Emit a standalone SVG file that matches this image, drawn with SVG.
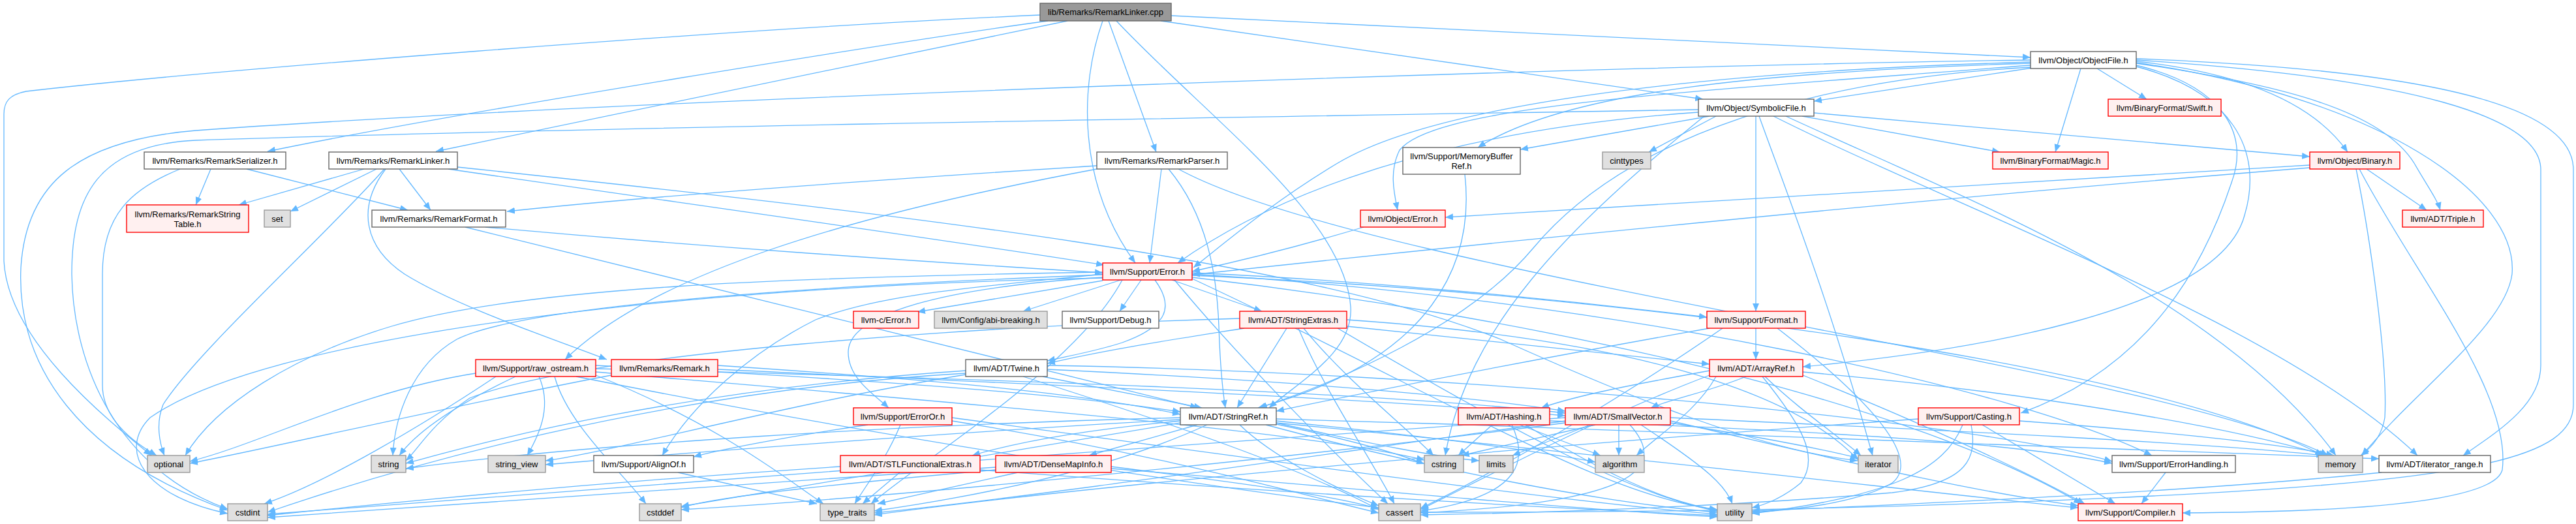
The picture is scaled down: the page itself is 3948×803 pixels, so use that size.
<svg xmlns="http://www.w3.org/2000/svg" width="3948" height="803" viewBox="0 0 3948 803">
<style>
.e{fill:none;stroke:#63b8ff;stroke-width:1.3;marker-end:url(#a)}
rect{stroke-width:1.4}
.w rect{fill:#fff;stroke:#666}
.r rect{fill:#fff0f0;stroke:#f00}
.g rect{fill:#e0e0e0;stroke:#999}
.k rect{fill:#999;stroke:#666}
text{font-family:"Liberation Sans",Arial,sans-serif;font-size:13px;text-anchor:middle;fill:#000}
</style>
<defs>
<marker id="a" viewBox="0 0 12 10" refX="12" refY="5" markerWidth="12" markerHeight="10" markerUnits="userSpaceOnUse" orient="auto"><path d="M0,0 L12,5 L0,10 z" fill="#63b8ff"/></marker>
</defs>
<rect width="3948" height="803" fill="#fff"/>
<g id="edges">
<path class="e" d="M1606,32 C1400,60 700,172 410,232"/>
<path class="e" d="M1636,32 L668,232"/>
<path class="e" d="M1594,23 C1100,45 300,110 40,140 C15,145 6,155 6,175 L6,400 C12,520 160,640 232,698"/>
<path class="e" d="M1690,32 C1655,130 1650,280 1740,403"/>
<path class="e" d="M1699,32 L1772,233"/>
<path class="e" d="M1711,32 C1850,180 2060,330 2070,470 C2075,540 1990,585 1945,625"/>
<path class="e" d="M1795,24 C2300,45 2800,70 3112,88"/>
<path class="e" d="M1779,32 L2610,152"/>
<path class="e" d="M276,259 C200,290 157,330 157,420 L157,590 C157,640 200,675 240,698"/>
<path class="e" d="M323,259 L300,314"/>
<path class="e" d="M378,259 L625,322"/>
<path class="e" d="M558,259 L366,314"/>
<path class="e" d="M577,259 L445,324"/>
<path class="e" d="M589,259 C500,360 300,540 250,620 C238,650 245,680 252,698"/>
<path class="e" d="M591,259 C545,320 560,380 620,420 C700,470 850,520 930,551"/>
<path class="e" d="M612,259 L660,322"/>
<path class="e" d="M687,259 C1000,305 1400,360 1692,406"/>
<path class="e" d="M701,256 C1400,330 2000,400 2300,520 C2500,610 2700,690 2847,706"/>
<path class="e" d="M1681,254 C1400,272 1000,300 777,324"/>
<path class="e" d="M1681,259 C1300,330 1000,420 866,551"/>
<path class="e" d="M1780,259 L1762,403"/>
<path class="e" d="M1791,259 C1850,330 1865,420 1868,500 C1870,560 1874,600 1878,625"/>
<path class="e" d="M1806,259 C2100,420 3300,560 3568,698"/>
<path class="e" d="M713,348 L1836,625"/>
<path class="e" d="M744,348 C1100,380 1400,400 1690,418"/>
<path class="e" d="M3115,104 L2780,155"/>
<path class="e" d="M3189,105 L3150,233"/>
<path class="e" d="M3214,105 L3290,152"/>
<path class="e" d="M3274,94 C3420,110 3540,150 3598,233"/>
<path class="e" d="M3274,97 C3500,130 3650,170 3700,250 C3720,285 3735,305 3740,322"/>
<path class="e" d="M3274,92 C3700,120 3894,180 3894,260 L3894,560 C3894,620 3830,660 3775,698"/>
<path class="e" d="M3274,90 C3800,110 3944,180 3944,260 L3944,620 C3944,700 3800,735 3300,760 C2800,785 2400,785 2177,785"/>
<path class="e" d="M3274,96 C3650,150 3860,300 3850,420 C3840,500 3700,600 3620,698"/>
<path class="e" d="M3274,100 C3400,130 3450,200 3420,280 C3380,400 3300,560 3097,633"/>
<path class="e" d="M3274,102 C3420,140 3470,230 3440,330 C3400,480 3000,540 2763,562"/>
<path class="e" d="M3112,95 C2600,110 2200,160 2050,250 C1950,310 1880,370 1829,410"/>
<path class="e" d="M3112,97 C2700,110 2400,140 2265,226"/>
<path class="e" d="M3112,100 C2600,140 2200,160 2145,230 C2130,260 2135,290 2142,322"/>
<path class="e" d="M3112,92 C2500,100 1000,150 300,200 C120,215 40,280 32,410 C25,560 120,700 349,782"/>
<path class="e" d="M3112,103 C2800,120 2500,200 2350,380 C2250,500 2050,585 1930,625"/>
<path class="e" d="M2620,178 L2330,229"/>
<path class="e" d="M2630,178 L2527,233"/>
<path class="e" d="M2762,178 L3065,233"/>
<path class="e" d="M2780,173 L3540,240"/>
<path class="e" d="M2691,178 L2691,477"/>
<path class="e" d="M2696,178 C2740,300 2800,450 2870,698"/>
<path class="e" d="M2737,178 C3000,300 3400,450 3580,698"/>
<path class="e" d="M2718,178 C3000,320 3500,500 3705,698"/>
<path class="e" d="M2603,168 C2000,178 900,195 300,215 C150,222 110,300 110,420 C112,560 180,720 349,780"/>
<path class="e" d="M2603,172 C2200,200 1950,300 1805,403"/>
<path class="e" d="M2612,178 C2400,350 2250,500 2215,698"/>
<path class="e" d="M2245,267 C2260,400 2200,550 1928,625"/>
<path class="e" d="M2090,348 C2000,375 1900,400 1827,416"/>
<path class="e" d="M3540,253 L2215,333"/>
<path class="e" d="M3540,257 C3000,300 2300,370 1827,421"/>
<path class="e" d="M3627,259 L3719,322"/>
<path class="e" d="M3611,259 C3630,350 3660,550 3655,640 C3650,670 3632,688 3618,698"/>
<path class="e" d="M3616,259 C3700,420 3850,600 3835,720 C3820,780 3500,785 3345,786"/>
<path class="e" d="M1690,430 L1406,478"/>
<path class="e" d="M1718,429 L1568,477"/>
<path class="e" d="M1749,429 L1716,477"/>
<path class="e" d="M1770,429 C1800,470 1790,500 1720,525 C1680,538 1640,545 1605,553"/>
<path class="e" d="M1796,429 L1934,477"/>
<path class="e" d="M1690,420 C1500,440 1350,450 1250,490 C1150,540 1060,620 1015,698"/>
<path class="e" d="M1690,417 C1200,425 800,440 600,500 C450,545 330,620 284,698"/>
<path class="e" d="M1690,421 C1200,440 800,470 700,520 C630,560 605,640 602,698"/>
<path class="e" d="M1690,426 C1000,440 400,520 230,640 C180,690 220,760 349,787"/>
<path class="e" d="M1720,429 C1650,560 1420,700 1335,772"/>
<path class="e" d="M1827,425 C2300,480 2900,600 3190,772"/>
<path class="e" d="M1827,420 C2500,460 3100,600 3298,698"/>
<path class="e" d="M1690,425 C1450,440 1300,480 1300,540 C1300,580 1340,605 1362,625"/>
<path class="e" d="M1827,418 C2100,430 2400,460 2616,486"/>
<path class="e" d="M1827,422 C2500,450 3300,560 3560,698"/>
<path class="e" d="M1827,427 C2200,600 2450,760 2632,781"/>
<path class="e" d="M1800,429 C1900,550 2050,700 2127,772"/>
<path class="e" d="M1907,503 C1800,520 1700,535 1605,557"/>
<path class="e" d="M1972,503 L1896,625"/>
<path class="e" d="M1990,503 C2030,600 2100,700 2137,772"/>
<path class="e" d="M1998,503 C2060,580 2150,650 2197,698"/>
<path class="e" d="M2064,500 L2620,558"/>
<path class="e" d="M1900,488 C1500,500 900,540 720,610 C660,650 640,690 622,706"/>
<path class="e" d="M2064,490 C2500,520 2750,600 2848,705"/>
<path class="e" d="M2050,503 C2300,650 2500,760 2632,783"/>
<path class="e" d="M1598,577 L1842,625"/>
<path class="e" d="M1605,566 C1900,580 2200,600 2399,630"/>
<path class="e" d="M1605,560 C2200,570 3000,640 3237,707"/>
<path class="e" d="M1568,577 C1800,650 2000,720 2113,781"/>
<path class="e" d="M1480,572 C1000,600 600,720 410,785"/>
<path class="e" d="M1480,568 C1000,600 700,690 622,710"/>
<path class="e" d="M1480,574 C1200,620 950,690 836,706"/>
<path class="e" d="M826,577 C845,620 830,660 808,698"/>
<path class="e" d="M729,572 C550,600 400,680 291,707"/>
<path class="e" d="M790,577 C700,620 640,660 612,698"/>
<path class="e" d="M760,577 C650,650 500,740 405,772"/>
<path class="e" d="M850,577 C870,650 950,720 990,772"/>
<path class="e" d="M883,577 C1300,660 1800,740 2113,778"/>
<path class="e" d="M913,570 C1500,620 2000,660 2183,705"/>
<path class="e" d="M913,575 C1100,650 1200,730 1262,772"/>
<path class="e" d="M913,565 C1500,580 2100,600 2399,633"/>
<path class="e" d="M913,560 C1300,580 1600,600 1809,631"/>
<path class="e" d="M1100,560 C1400,580 1650,600 1809,635"/>
<path class="e" d="M1100,566 C1600,590 2100,610 2399,637"/>
<path class="e" d="M937,575 C700,620 400,690 291,710"/>
<path class="e" d="M1330,651 C1200,670 1100,690 1063,700"/>
<path class="e" d="M1459,645 C1800,700 2000,760 2113,786"/>
<path class="e" d="M1380,651 C1360,700 1330,740 1310,772"/>
<path class="e" d="M1459,640 C1900,700 2400,770 2632,788"/>
<path class="e" d="M1835,651 L1669,698"/>
<path class="e" d="M1809,645 C1650,660 1550,680 1490,698"/>
<path class="e" d="M1956,642 C2600,660 3300,690 3646,703"/>
<path class="e" d="M1956,648 C2500,700 3000,760 3185,778"/>
<path class="e" d="M1956,645 C2200,670 2350,690 2445,708"/>
<path class="e" d="M1900,651 C1950,700 2050,750 2113,775"/>
<path class="e" d="M1809,648 C1500,700 1200,750 1044,776"/>
<path class="e" d="M1956,650 C2050,670 2130,690 2183,711"/>
<path class="e" d="M1956,648 C2100,680 2200,700 2267,706"/>
<path class="e" d="M1809,640 C1400,650 900,680 622,718"/>
<path class="e" d="M1809,643 C1500,660 1100,690 836,712"/>
<path class="e" d="M1850,651 C1700,720 1500,760 1340,783"/>
<path class="e" d="M1940,651 C2200,720 2450,770 2632,785"/>
<path class="e" d="M1379,724 L1322,772"/>
<path class="e" d="M1288,715 C900,740 600,770 410,790"/>
<path class="e" d="M1502,720 C1900,750 2300,775 2632,790"/>
<path class="e" d="M1560,724 L1345,772"/>
<path class="e" d="M1526,716 C1100,745 600,780 410,793"/>
<path class="e" d="M1526,720 C1300,740 1100,760 1044,778"/>
<path class="e" d="M1703,715 C1900,740 2050,760 2113,780"/>
<path class="e" d="M1703,718 C2100,750 2400,780 2632,792"/>
<path class="e" d="M1039,724 L1252,772"/>
<path class="e" d="M2287,651 L2235,698"/>
<path class="e" d="M2329,651 L2453,698"/>
<path class="e" d="M2317,651 C2340,700 2340,760 2177,783"/>
<path class="e" d="M2338,651 C2450,720 2550,770 2632,781"/>
<path class="e" d="M2375,645 C2800,660 3100,680 3237,710"/>
<path class="e" d="M2445,651 L2240,698"/>
<path class="e" d="M2437,651 L2318,698"/>
<path class="e" d="M2481,651 L2481,698"/>
<path class="e" d="M2498,651 C2560,720 2500,770 2177,786"/>
<path class="e" d="M2515,651 C2620,720 2645,745 2655,772"/>
<path class="e" d="M2560,640 C3000,660 3400,680 3562,698"/>
<path class="e" d="M2560,645 C2800,700 3000,750 3185,775"/>
<path class="e" d="M2560,648 C2700,670 2800,690 2848,702"/>
<path class="e" d="M2399,640 C1800,680 800,760 410,788"/>
<path class="e" d="M2399,645 C2000,700 1600,760 1340,786"/>
<path class="e" d="M2399,648 C2000,700 1400,760 1044,781"/>
<path class="e" d="M2691,503 L2691,551"/>
<path class="e" d="M2724,503 C2850,600 2950,700 2900,740 C2850,770 2750,782 2685,785"/>
<path class="e" d="M2620,503 C2300,560 2100,600 1956,630"/>
<path class="e" d="M2640,503 C2500,600 2300,720 2177,779"/>
<path class="e" d="M2620,568 C2500,590 2420,605 2362,625"/>
<path class="e" d="M2676,577 C2620,600 2560,612 2530,625"/>
<path class="e" d="M2705,577 C2760,630 2820,670 2852,698"/>
<path class="e" d="M2701,577 C2760,650 2790,700 2760,740 C2730,765 2700,775 2685,778"/>
<path class="e" d="M2630,577 C2600,630 2550,660 2508,698"/>
<path class="e" d="M2763,570 C3100,600 3400,650 3566,698"/>
<path class="e" d="M2763,575 C2950,650 3100,720 3195,772"/>
<path class="e" d="M2620,575 C2450,640 2300,720 2177,781"/>
<path class="e" d="M3008,651 C2980,720 2900,760 2685,787"/>
<path class="e" d="M3038,651 L3242,772"/>
<path class="e" d="M3021,651 C3030,700 3020,740 2900,755 C2600,780 2300,787 2177,789"/>
<path class="e" d="M3095,645 C3300,660 3500,680 3577,698"/>
<path class="e" d="M2940,642 C2400,680 1700,740 1340,789"/>
<path class="e" d="M3319,724 L3282,772"/>
<path class="e" d="M3650,724 C3400,750 3000,770 2685,783"/>
</g>
<g id="root" class="k"><rect x="1594" y="5" width="201" height="27"/><text x="1694.5" y="23">lib/Remarks/RemarkLinker.cpp</text></g>
<g id="RemarkSerializer" class="w"><rect x="221" y="233" width="217" height="26"/><text x="329.5" y="250.5">llvm/Remarks/RemarkSerializer.h</text></g>
<g id="RemarkLinker" class="w"><rect x="504" y="233" width="197" height="26"/><text x="602.5" y="250.5">llvm/Remarks/RemarkLinker.h</text></g>
<g id="RemarkParser" class="w"><rect x="1681" y="233" width="200" height="26"/><text x="1781" y="250.5">llvm/Remarks/RemarkParser.h</text></g>
<g id="RemarkStringTable" class="r"><rect x="194" y="314" width="187" height="42"/><text x="287.5" y="333">llvm/Remarks/RemarkString</text><text x="287.5" y="348">Table.h</text></g>
<g id="set" class="g"><rect x="405" y="322" width="40" height="26"/><text x="425" y="339.5">set</text></g>
<g id="RemarkFormat" class="w"><rect x="570" y="322" width="205" height="26"/><text x="672.5" y="339.5">llvm/Remarks/RemarkFormat.h</text></g>
<g id="ObjectFile" class="w"><rect x="3112" y="79" width="162" height="26"/><text x="3193" y="96.5">llvm/Object/ObjectFile.h</text></g>
<g id="SymbolicFile" class="w"><rect x="2603" y="152" width="177" height="26"/><text x="2691.5" y="169.5">llvm/Object/SymbolicFile.h</text></g>
<g id="MemoryBufferRef" class="w"><rect x="2150" y="226" width="180" height="41"/><text x="2240" y="244">llvm/Support/MemoryBuffer</text><text x="2240" y="259">Ref.h</text></g>
<g id="cinttypes" class="g"><rect x="2456" y="233" width="74" height="26"/><text x="2493" y="250.5">cinttypes</text></g>
<g id="ObjectError" class="r"><rect x="2085" y="322" width="130" height="26"/><text x="2150" y="339.5">llvm/Object/Error.h</text></g>
<g id="Magic" class="r"><rect x="3054" y="233" width="177" height="26"/><text x="3142.5" y="250.5">llvm/BinaryFormat/Magic.h</text></g>
<g id="Swift" class="r"><rect x="3231" y="152" width="173" height="26"/><text x="3317.5" y="169.5">llvm/BinaryFormat/Swift.h</text></g>
<g id="Binary" class="r"><rect x="3540" y="233" width="138" height="26"/><text x="3609" y="250.5">llvm/Object/Binary.h</text></g>
<g id="Triple" class="r"><rect x="3682" y="322" width="124" height="26"/><text x="3744" y="339.5">llvm/ADT/Triple.h</text></g>
<g id="Error" class="r"><rect x="1690" y="403" width="137" height="26"/><text x="1758.5" y="420.5">llvm/Support/Error.h</text></g>
<g id="cError" class="r"><rect x="1308" y="477" width="100" height="26"/><text x="1358" y="494.5">llvm-c/Error.h</text></g>
<g id="abiBreaking" class="g"><rect x="1432" y="477" width="173" height="26"/><text x="1518.5" y="494.5">llvm/Config/abi-breaking.h</text></g>
<g id="Debug" class="w"><rect x="1628" y="477" width="148" height="26"/><text x="1702" y="494.5">llvm/Support/Debug.h</text></g>
<g id="StringExtras" class="r"><rect x="1900" y="477" width="164" height="26"/><text x="1982" y="494.5">llvm/ADT/StringExtras.h</text></g>
<g id="Format" class="r"><rect x="2616" y="477" width="151" height="26"/><text x="2691.5" y="494.5">llvm/Support/Format.h</text></g>
<g id="rawOstream" class="r"><rect x="729" y="551" width="184" height="26"/><text x="821" y="568.5">llvm/Support/raw_ostream.h</text></g>
<g id="Remark" class="r"><rect x="937" y="551" width="163" height="26"/><text x="1018.5" y="568.5">llvm/Remarks/Remark.h</text></g>
<g id="Twine" class="w"><rect x="1480" y="551" width="125" height="26"/><text x="1542.5" y="568.5">llvm/ADT/Twine.h</text></g>
<g id="ArrayRef" class="r"><rect x="2620" y="551" width="143" height="26"/><text x="2691.5" y="568.5">llvm/ADT/ArrayRef.h</text></g>
<g id="ErrorOr" class="r"><rect x="1308" y="625" width="151" height="26"/><text x="1383.5" y="642.5">llvm/Support/ErrorOr.h</text></g>
<g id="StringRef" class="w"><rect x="1809" y="625" width="147" height="26"/><text x="1882.5" y="642.5">llvm/ADT/StringRef.h</text></g>
<g id="Hashing" class="r"><rect x="2235" y="625" width="140" height="26"/><text x="2305" y="642.5">llvm/ADT/Hashing.h</text></g>
<g id="SmallVector" class="r"><rect x="2399" y="625" width="161" height="26"/><text x="2479.5" y="642.5">llvm/ADT/SmallVector.h</text></g>
<g id="Casting" class="r"><rect x="2940" y="625" width="155" height="26"/><text x="3017.5" y="642.5">llvm/Support/Casting.h</text></g>
<g id="optional" class="g"><rect x="226" y="698" width="65" height="26"/><text x="258.5" y="715.5">optional</text></g>
<g id="string" class="g"><rect x="569" y="698" width="53" height="26"/><text x="595.5" y="715.5">string</text></g>
<g id="string_view" class="g"><rect x="748" y="698" width="88" height="26"/><text x="792" y="715.5">string_view</text></g>
<g id="AlignOf" class="w"><rect x="910" y="698" width="153" height="26"/><text x="986.5" y="715.5">llvm/Support/AlignOf.h</text></g>
<g id="STLFunctionalExtras" class="r"><rect x="1288" y="698" width="214" height="26"/><text x="1395" y="715.5">llvm/ADT/STLFunctionalExtras.h</text></g>
<g id="DenseMapInfo" class="r"><rect x="1526" y="698" width="177" height="26"/><text x="1614.5" y="715.5">llvm/ADT/DenseMapInfo.h</text></g>
<g id="cstring" class="g"><rect x="2183" y="698" width="60" height="26"/><text x="2213" y="715.5">cstring</text></g>
<g id="limits" class="g"><rect x="2267" y="698" width="52" height="26"/><text x="2293" y="715.5">limits</text></g>
<g id="algorithm" class="g"><rect x="2445" y="698" width="75" height="26"/><text x="2482.5" y="715.5">algorithm</text></g>
<g id="iterator" class="g"><rect x="2848" y="698" width="61" height="26"/><text x="2878.5" y="715.5">iterator</text></g>
<g id="ErrorHandling" class="w"><rect x="3237" y="698" width="189" height="26"/><text x="3331.5" y="715.5">llvm/Support/ErrorHandling.h</text></g>
<g id="memory" class="g"><rect x="3553" y="698" width="68" height="26"/><text x="3587" y="715.5">memory</text></g>
<g id="iterator_range" class="w"><rect x="3646" y="698" width="171" height="26"/><text x="3731.5" y="715.5">llvm/ADT/iterator_range.h</text></g>
<g id="cstdint" class="g"><rect x="349" y="772" width="61" height="26"/><text x="379.5" y="789.5">cstdint</text></g>
<g id="cstddef" class="g"><rect x="980" y="772" width="64" height="26"/><text x="1012" y="789.5">cstddef</text></g>
<g id="type_traits" class="g"><rect x="1257" y="772" width="83" height="26"/><text x="1298.5" y="789.5">type_traits</text></g>
<g id="cassert" class="g"><rect x="2113" y="772" width="64" height="26"/><text x="2145" y="789.5">cassert</text></g>
<g id="utility" class="g"><rect x="2632" y="772" width="53" height="26"/><text x="2658.5" y="789.5">utility</text></g>
<g id="Compiler" class="r"><rect x="3185" y="772" width="160" height="26"/><text x="3265" y="789.5">llvm/Support/Compiler.h</text></g>
</svg>
